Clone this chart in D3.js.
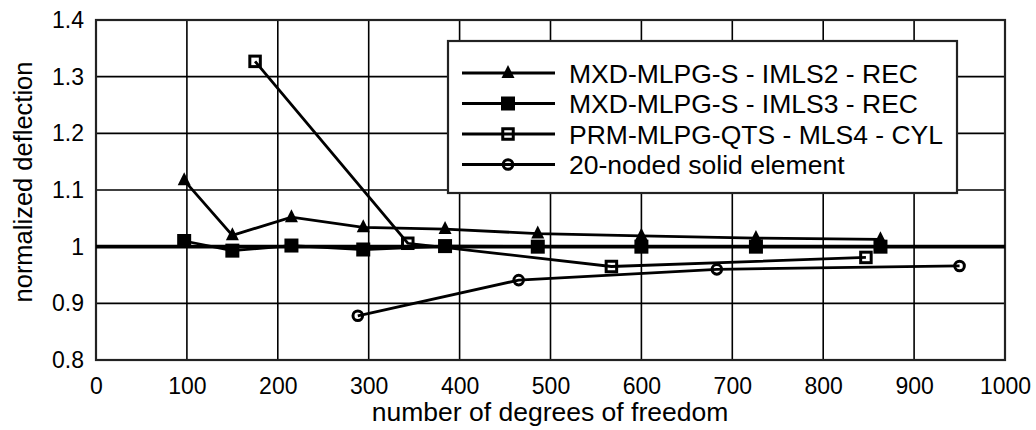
<!DOCTYPE html>
<html>
<head>
<meta charset="utf-8">
<script src="https://cdn.jsdelivr.net/npm/d3@7"></script>
<style>
  html, body { margin: 0; padding: 0; background: #fff; }
  svg { display: block; font-family: "Liberation Sans", Arial, Helvetica, sans-serif; }
</style>
</head>
<body>
<svg id="chart" width="1036" height="430"></svg>
<script>
// ---- data ----
const seriesNames = [
  "MXD-MLPG-S - IMLS2 - REC",
  "MXD-MLPG-S - IMLS3 - REC",
  "PRM-MLPG-QTS - MLS4 - CYL",
  "20-noded solid element"
];
const imls2X = [97, 150, 215, 294, 384, 486, 600, 726, 863];
const imls2Y = [1.117, 1.020, 1.052, 1.034, 1.031, 1.023, 1.019, 1.015, 1.013];
const imls3X = [97, 150, 215, 294, 384, 486, 600, 726, 863];
const imls3Y = [1.010, 0.993, 1.002, 0.995, 1.001, 1.000, 1.000, 1.000, 1.000];
const prmX = [175, 343, 567, 847];
const prmY = [1.327, 1.006, 0.965, 0.981];
const solidX = [288, 465, 683, 950];
const solidY = [0.878, 0.941, 0.960, 0.966];
const referenceY = [1.0];
const xTicks = [0, 100, 200, 300, 400, 500, 600, 700, 800, 900, 1000];
const yTicks = [0.8, 0.9, 1.0, 1.1, 1.2, 1.3, 1.4];
const yTickLabels = ["0.8", "0.9", "1", "1.1", "1.2", "1.3", "1.4"];
const xTitle = "number of degrees of freedom";
const yTitle = "normalized deflection";

// ---- layout ----
const svg = d3.select("#chart");
const L = 96, R = 1005, T = 20, B = 360;
const x = d3.scaleLinear().domain([0, 1000]).range([L, R]);
const y = d3.scaleLinear().domain([0.8, 1.4]).range([B, T]);

// grid
const g = svg.append("g");
g.selectAll("line.vg").data(xTicks).join("line")
  .attr("x1", d => x(d)).attr("x2", d => x(d)).attr("y1", T).attr("y2", B)
  .attr("stroke", "#000").attr("stroke-width", 1.6);
g.selectAll("line.hg").data(yTicks).join("line")
  .attr("y1", d => y(d)).attr("y2", d => y(d)).attr("x1", L).attr("x2", R)
  .attr("stroke", "#000").attr("stroke-width", 1.6);
g.append("rect").attr("x", L).attr("y", T).attr("width", R - L).attr("height", B - T)
  .attr("fill", "none").attr("stroke", "#222").attr("stroke-width", 2.2);

// axes (labels only)
const yAxis = d3.axisLeft(y).tickValues(yTicks).tickSize(0).tickPadding(12)
  .tickFormat((d, i) => yTickLabels[i]);
const ya = svg.append("g").attr("transform", `translate(${L},0)`).call(yAxis);
ya.select(".domain").remove();
ya.selectAll("text").attr("font-size", 23).attr("font-family", "Liberation Sans, Arial, sans-serif").attr("fill", "#000");

const xAxis = d3.axisBottom(x).tickValues(xTicks).tickSize(0).tickPadding(18)
  .tickFormat(d3.format("d"));
const xa = svg.append("g").attr("transform", `translate(0,${B})`).call(xAxis);
xa.select(".domain").remove();
xa.selectAll("text").attr("font-size", 23).attr("font-family", "Liberation Sans, Arial, sans-serif").attr("fill", "#000");

// titles
svg.append("text").attr("x", 550).attr("y", 421).attr("text-anchor", "middle")
  .attr("font-size", 26.5).attr("fill", "#000").text(xTitle);
svg.append("text").attr("transform", "translate(32,182) rotate(-90)").attr("text-anchor", "middle")
  .attr("font-size", 25.5).attr("fill", "#000").text(yTitle);

// reference line
svg.selectAll("line.ref").data(referenceY).join("line")
  .attr("x1", L).attr("x2", R).attr("y1", d => y(d)).attr("y2", d => y(d))
  .attr("stroke", "#000").attr("stroke-width", 3.6);

// series
const series = [
  { name: seriesNames[0], xs: imls2X, ys: imls2Y, marker: "triangle" },
  { name: seriesNames[1], xs: imls3X, ys: imls3Y, marker: "square" },
  { name: seriesNames[2], xs: prmX, ys: prmY, marker: "osquare" },
  { name: seriesNames[3], xs: solidX, ys: solidY, marker: "circle" }
];
const line = d3.line().x(d => x(d[0])).y(d => y(d[1]));

function drawMarker(sel, type) {
  if (type === "triangle") {
    const s = 13;
    sel.append("path").attr("d", `M0,${-s * 0.62} L${s / 2},${s * 0.38} L${-s / 2},${s * 0.38} Z`).attr("fill", "#000");
  } else if (type === "square") {
    const s = 14;
    sel.append("rect").attr("x", -s / 2).attr("y", -s / 2).attr("width", s).attr("height", s).attr("fill", "#000");
  } else if (type === "osquare") {
    const s = 10.5;
    sel.append("rect").attr("x", -s / 2).attr("y", -s / 2).attr("width", s).attr("height", s)
      .attr("fill", "none").attr("stroke", "#000").attr("stroke-width", 3);
  } else {
    sel.append("circle").attr("r", 4.8).attr("fill", "none").attr("stroke", "#000").attr("stroke-width", 3);
  }
}

series.forEach(s => {
  const pts = s.xs.map((v, i) => [v, s.ys[i]]);
  svg.append("path").datum(pts).attr("d", line).attr("fill", "none")
    .attr("stroke", "#000").attr("stroke-width", 2.8);
  pts.forEach(p => {
    const m = svg.append("g").attr("transform", `translate(${x(p[0])},${y(p[1])})`);
    drawMarker(m, s.marker);
  });
});

// legend
const lg = svg.append("g");
lg.append("rect").attr("x", 448).attr("y", 41).attr("width", 509).attr("height", 152)
  .attr("fill", "#fff").attr("stroke", "#222").attr("stroke-width", 2.2);
series.forEach((s, i) => {
  const ry = 73 + i * 30.5;
  lg.append("line").attr("x1", 462).attr("x2", 555).attr("y1", ry).attr("y2", ry)
    .attr("stroke", "#000").attr("stroke-width", 3);
  const m = lg.append("g").attr("transform", `translate(508,${ry})`);
  drawMarker(m, s.marker);
  lg.append("text").attr("x", 569).attr("y", ry + 9.5).attr("font-size", 26.5).attr("fill", "#000").text(s.name);
});
</script>
</body>
</html>
